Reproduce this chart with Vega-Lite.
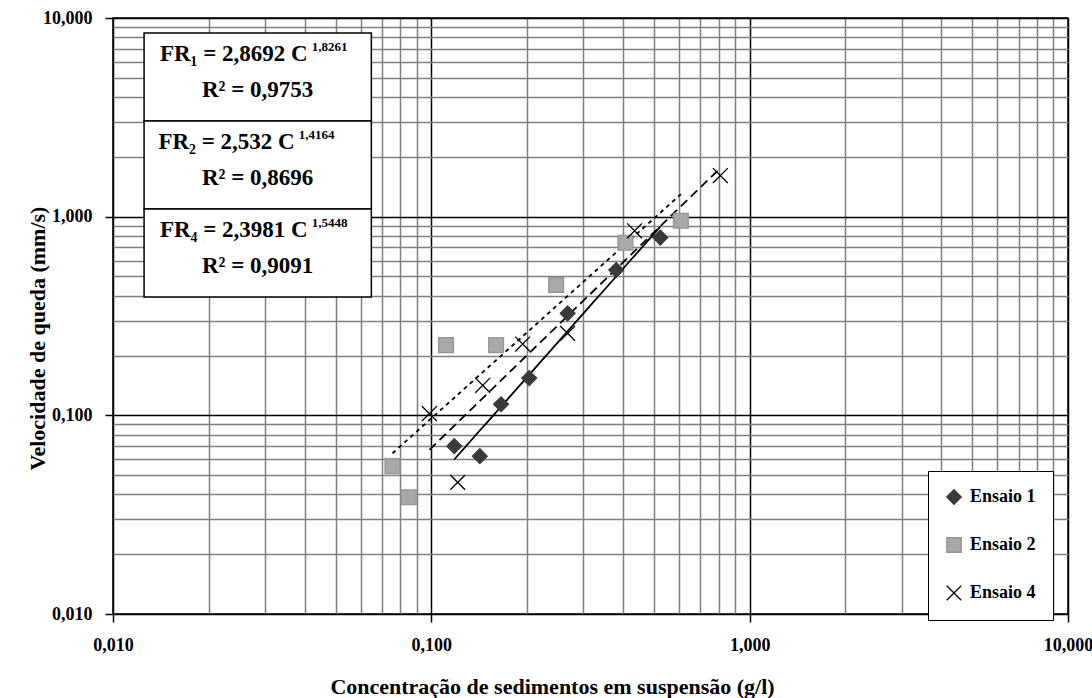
{
  "$schema": "https://vega.github.io/schema/vega-lite/v6.json",
  "width": 955,
  "height": 596,
  "autosize": {"type": "none"},
  "padding": {"left": 113, "top": 18, "right": 24, "bottom": 84},
  "background": "white",
  "config": {
    "view": {"stroke": "black", "strokeWidth": 1.5},
    "font": "Liberation Serif",
    "legend": {
      "title": null,
      "orient": "none",
      "legendX": 815,
      "legendY": 453,
      "fillColor": "white",
      "strokeColor": "black",
      "padding": 17,
      "rowPadding": 28,
      "symbolSize": 210,
      "symbolStrokeWidth": 1.3,
      "labelOffset": 7,
      "labelFont": "Liberation Serif",
      "labelFontSize": 18,
      "labelFontWeight": "bold",
      "labelColor": "black",
      "labelExpr": "datum.label + '\u00a0\u00a0\u00a0\u00a0\u00a0\u00a0\u00a0'"
    }
  },
  "datasets": {
    "pts": [
      {"serie": "Ensaio 1", "C": 0.118, "V": 0.070},
      {"serie": "Ensaio 1", "C": 0.142, "V": 0.0623},
      {"serie": "Ensaio 1", "C": 0.1656, "V": 0.1137},
      {"serie": "Ensaio 1", "C": 0.203, "V": 0.154},
      {"serie": "Ensaio 1", "C": 0.268, "V": 0.326},
      {"serie": "Ensaio 1", "C": 0.381, "V": 0.539},
      {"serie": "Ensaio 1", "C": 0.524, "V": 0.785},
      {"serie": "Ensaio 2", "C": 0.0755, "V": 0.0555},
      {"serie": "Ensaio 2", "C": 0.0849, "V": 0.0387},
      {"serie": "Ensaio 2", "C": 0.1112, "V": 0.2257},
      {"serie": "Ensaio 2", "C": 0.1598, "V": 0.2257},
      {"serie": "Ensaio 2", "C": 0.2466, "V": 0.4535},
      {"serie": "Ensaio 2", "C": 0.407, "V": 0.739},
      {"serie": "Ensaio 2", "C": 0.608, "V": 0.954},
      {"serie": "Ensaio 4", "C": 0.0986, "V": 0.102},
      {"serie": "Ensaio 4", "C": 0.121, "V": 0.046},
      {"serie": "Ensaio 4", "C": 0.145, "V": 0.1417},
      {"serie": "Ensaio 4", "C": 0.1936, "V": 0.2284},
      {"serie": "Ensaio 4", "C": 0.268, "V": 0.2586},
      {"serie": "Ensaio 4", "C": 0.435, "V": 0.849},
      {"serie": "Ensaio 4", "C": 0.809, "V": 1.61}
    ],
    "eqs": [
      {"serie": "Ensaio 1", "eq": "FR₁ = 2,8692 C", "exp": "1,8261", "r2": "R² = 0,9753"},
      {"serie": "Ensaio 2", "eq": "FR₂ = 2,532 C", "exp": "1,4164", "r2": "R² = 0,8696"},
      {"serie": "Ensaio 4", "eq": "FR₄ = 2,3981 C", "exp": "1,5448", "r2": "R² = 0,9091"}
    ]
  },
  "resolve": {"scale": {"x": "independent", "y": "independent"}, "axis": {"x": "independent", "y": "independent"}, "legend": {"shape": "independent", "fill": "independent", "stroke": "independent"}},
  "layer": [
    {
      "data": {"name": "pts"},
      "encoding": {
        "x": {
          "field": "C",
          "type": "quantitative",
          "scale": {"type": "log", "domain": [0.01, 10], "nice": false},
          "axis": {
            "title": "Concentração de sedimentos em suspensão (g/l)",
            "values": [0.01, 0.02, 0.03, 0.04, 0.05, 0.06, 0.07, 0.08, 0.09, 0.1, 0.2, 0.3, 0.4, 0.5, 0.6, 0.7, 0.8, 0.9, 1, 2, 3, 4, 5, 6, 7, 8, 9, 10],
            "grid": true,
            "gridColor": {"condition": {"test": "abs(log(datum.value)/LN10 - round(log(datum.value)/LN10)) < 0.01", "value": "black"}, "value": "#808080"},
            "gridWidth": 1.5,
            "gridOpacity": 1,
            "tickColor": {"condition": {"test": "abs(log(datum.value)/LN10 - round(log(datum.value)/LN10)) < 0.01", "value": "black"}, "value": "transparent"},
            "tickSize": 8,
            "tickWidth": 1.5,
            "domain": false,
            "labelExpr": "abs(log(datum.value)/LN10 - round(log(datum.value)/LN10)) < 0.01 ? replace(format(datum.value, '.3f'), '.', ',') : ''",
            "labelFont": "Liberation Serif",
            "labelFontSize": 18,
            "labelFontWeight": "bold",
            "labelColor": "black",
            "labelPadding": 14,
            "labelOverlap": false,
            "labelFlush": false,
            "labelBound": false,
            "titleFont": "Liberation Serif",
            "titleFontSize": 22,
            "titleFontWeight": "bold",
            "titleColor": "black",
            "titleX": 439,
            "titleY": 72,
            "titleAlign": "center",
            "titleBaseline": "middle"
          }
        },
        "y": {
          "field": "V",
          "type": "quantitative",
          "scale": {"type": "log", "domain": [0.01, 10], "nice": false},
          "axis": {
            "title": "Velocidade de queda (mm/s)",
            "values": [0.01, 0.02, 0.03, 0.04, 0.05, 0.06, 0.07, 0.08, 0.09, 0.1, 0.2, 0.3, 0.4, 0.5, 0.6, 0.7, 0.8, 0.9, 1, 2, 3, 4, 5, 6, 7, 8, 9, 10],
            "grid": true,
            "gridColor": {"condition": {"test": "abs(log(datum.value)/LN10 - round(log(datum.value)/LN10)) < 0.01", "value": "black"}, "value": "#808080"},
            "gridWidth": 1.5,
            "gridOpacity": 1,
            "tickColor": {"condition": {"test": "abs(log(datum.value)/LN10 - round(log(datum.value)/LN10)) < 0.01", "value": "black"}, "value": "transparent"},
            "tickSize": 8,
            "tickWidth": 1.5,
            "domain": false,
            "labelExpr": "abs(log(datum.value)/LN10 - round(log(datum.value)/LN10)) < 0.01 ? replace(format(datum.value, '.3f'), '.', ',') : ''",
            "labelFont": "Liberation Serif",
            "labelFontSize": 18,
            "labelFontWeight": "bold",
            "labelColor": "black",
            "labelPadding": 13,
            "labelOverlap": false,
            "labelFlush": false,
            "labelBound": false,
            "titleFont": "Liberation Serif",
            "titleFontSize": 22,
            "titleFontWeight": "bold",
            "titleColor": "black",
            "titleX": -76,
            "titleY": 320,
            "titleAngle": -90,
            "titleAlign": "center",
            "titleBaseline": "middle"
          }
        }
      },
      "layer": [
        {
          "transform": [{"regression": "V", "on": "C", "method": "pow", "groupby": ["serie"]}],
          "mark": {"type": "line", "color": "black", "strokeWidth": 1.8},
          "encoding": {
            "strokeDash": {
              "field": "serie",
              "type": "nominal",
              "scale": {"domain": ["Ensaio 1", "Ensaio 2", "Ensaio 4"], "range": [[1, 0], [4, 4], [9, 5]]},
              "legend": null
            }
          }
        },
        {
          "mark": {"type": "point", "filled": true, "opacity": 1, "size": 220, "strokeWidth": 1.3},
          "encoding": {
            "shape": {
              "field": "serie",
              "type": "nominal",
              "scale": {"domain": ["Ensaio 1", "Ensaio 2", "Ensaio 4"], "range": ["diamond", "square", "M-1,-1L1,1M-1,1L1,-1"]}
            },
            "fill": {
              "field": "serie",
              "type": "nominal",
              "scale": {"domain": ["Ensaio 1", "Ensaio 2", "Ensaio 4"], "range": ["#3a3a3a", "#a8a8a8", "transparent"]}
            },
            "stroke": {
              "field": "serie",
              "type": "nominal",
              "scale": {"domain": ["Ensaio 1", "Ensaio 2", "Ensaio 4"], "range": ["#3a3a3a", "#959595", "#000000"]}
            }
          }
        }
      ]
    },
    {
      "data": {"name": "eqs"},
      "encoding": {
        "y": {
          "field": "serie",
          "type": "nominal",
          "scale": {"type": "band", "range": [15, 279], "paddingInner": 0, "paddingOuter": 0},
          "axis": null
        }
      },
      "layer": [
        {
          "mark": {"type": "rect", "fill": "white", "stroke": "black", "strokeWidth": 1.5},
          "encoding": {
            "x": {"datum": 0.01252, "type": "quantitative", "scale": {"type": "log", "domain": [0.01, 10], "nice": false}, "axis": null},
            "x2": {"datum": 0.0648}
          }
        },
        {
          "transform": [{"filter": "datum.serie != 'Ensaio 2'"}],
          "mark": {"type": "text", "align": "right", "baseline": "middle", "dy": -23, "font": "Liberation Serif", "fontSize": 23, "fontWeight": "bold", "color": "black"},
          "encoding": {
            "x": {"datum": 0.04088, "type": "quantitative", "axis": null},
            "text": {"field": "eq"}
          }
        },
        {
          "transform": [{"filter": "datum.serie == 'Ensaio 2'"}],
          "mark": {"type": "text", "align": "right", "baseline": "middle", "dy": -23, "font": "Liberation Serif", "fontSize": 23, "fontWeight": "bold", "color": "black"},
          "encoding": {
            "x": {"datum": 0.03723, "type": "quantitative", "axis": null},
            "text": {"field": "eq"}
          }
        },
        {
          "transform": [{"filter": "datum.serie != 'Ensaio 2'"}],
          "mark": {"type": "text", "align": "left", "baseline": "middle", "dx": 4, "dy": -30, "font": "Liberation Serif", "fontSize": 13, "fontWeight": "bold", "color": "black"},
          "encoding": {
            "x": {"datum": 0.04088, "type": "quantitative", "axis": null},
            "text": {"field": "exp"}
          }
        },
        {
          "transform": [{"filter": "datum.serie == 'Ensaio 2'"}],
          "mark": {"type": "text", "align": "left", "baseline": "middle", "dx": 4, "dy": -30, "font": "Liberation Serif", "fontSize": 13, "fontWeight": "bold", "color": "black"},
          "encoding": {
            "x": {"datum": 0.03723, "type": "quantitative", "axis": null},
            "text": {"field": "exp"}
          }
        },
        {
          "mark": {"type": "text", "align": "center", "baseline": "middle", "dy": 13, "font": "Liberation Serif", "fontSize": 23, "fontWeight": "bold", "color": "black"},
          "encoding": {
            "x": {"datum": 0.02847, "type": "quantitative", "axis": null},
            "text": {"field": "r2"}
          }
        }
      ]
    }
  ]
}
